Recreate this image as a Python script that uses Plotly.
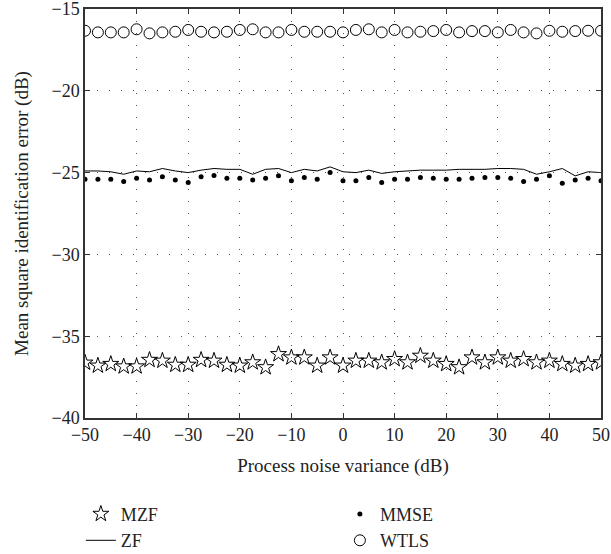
import plotly.graph_objects as go

x_vals = [-50 + 2.5 * i for i in range(41)]

mzf = [-36.62, -36.8, -36.7, -36.85, -36.85, -36.45, -36.5, -36.75, -36.75, -36.45,
       -36.5, -36.75, -36.8, -36.6, -36.9, -36.1, -36.3, -36.3, -36.8, -36.3,
       -36.8, -36.5, -36.5, -36.6, -36.4, -36.6, -36.2, -36.5, -36.7, -36.9,
       -36.3, -36.6, -36.3, -36.5, -36.4, -36.6, -36.5, -36.7, -36.8, -36.7, -36.6]

zf = [-24.9, -24.9, -24.95, -25.1, -24.9, -24.95, -24.75, -24.9, -25.0, -24.85,
      -24.75, -24.8, -24.8, -25.1, -24.8, -24.75, -25.0, -24.8, -24.9, -24.65,
      -24.95, -25.0, -24.85, -25.05, -24.95, -24.9, -24.85, -24.85, -24.85, -24.8,
      -24.8, -24.8, -24.75, -24.75, -24.8, -25.1, -24.95, -24.75, -25.2, -24.95,
      -25.0]

mmse = [-25.4, -25.4, -25.4, -25.55, -25.35, -25.45, -25.25, -25.45, -25.6, -25.25,
        -25.17, -25.35, -25.35, -25.45, -25.35, -25.2, -25.5, -25.3, -25.4, -25.0,
        -25.5, -25.5, -25.3, -25.6, -25.4, -25.4, -25.3, -25.35, -25.4, -25.4,
        -25.35, -25.3, -25.3, -25.35, -25.55, -25.4, -25.2, -25.65, -25.45, -25.35,
        -25.5]

wtls = [-16.33, -16.43, -16.43, -16.43, -16.24, -16.49, -16.43, -16.39, -16.28, -16.39,
        -16.43, -16.39, -16.28, -16.24, -16.43, -16.43, -16.28, -16.39, -16.39, -16.39,
        -16.43, -16.28, -16.24, -16.43, -16.28, -16.43, -16.39, -16.35, -16.28, -16.43,
        -16.35, -16.35, -16.43, -16.28, -16.43, -16.49, -16.33, -16.39, -16.35, -16.33,
        -16.33]

x_ticks = [-50, -40, -30, -20, -10, 0, 10, 20, 30, 40, 50]
y_ticks = [-40, -35, -30, -25, -20, -15]

FONT = "Liberation Serif"
TXT = "#222"

fig = go.Figure()
fig.add_trace(go.Scatter(x=x_vals, y=mzf, name="MZF", mode="markers", legend="legend",
                         marker=dict(symbol="star-open", size=12, color="black",
                                     line=dict(width=1, color="black"))))
fig.add_trace(go.Scatter(x=x_vals, y=zf, name="ZF", mode="lines", legend="legend",
                         line=dict(color="black", width=1)))
fig.add_trace(go.Scatter(x=x_vals, y=mmse, name="MMSE", mode="markers", legend="legend2",
                         marker=dict(symbol="circle", size=5, color="black")))
fig.add_trace(go.Scatter(x=x_vals, y=wtls, name="WTLS", mode="markers", legend="legend2",
                         marker=dict(symbol="circle-open", size=11, color="black",
                                     line=dict(width=1, color="black"))))

axis_common = dict(showline=True, linecolor="#333", linewidth=1.5, mirror="ticks",
                   ticks="inside", ticklen=5, tickcolor="#333",
                   showgrid=True, gridcolor="#555", griddash="1px,11px", gridwidth=1,
                   zeroline=False, automargin=False, ticklabeloverflow="allow",
                   tickfont=dict(family=FONT, size=18, color=TXT))

fig.update_xaxes(range=[-50, 50], tickvals=x_ticks,
                 title=dict(text="Process noise variance (dB)", font=dict(family=FONT, size=19, color=TXT),
                            standoff=14),
                 **axis_common)
fig.update_yaxes(range=[-40, -15], tickvals=y_ticks,
                 title=dict(text="Mean square identification error (dB)", font=dict(family=FONT, size=19, color=TXT),
                            standoff=18),
                 **axis_common)

legend_common = dict(orientation="v", yanchor="top", y=-0.19, xanchor="left",
                     font=dict(family=FONT, size=18, color=TXT),
                     itemwidth=30, tracegroupgap=0, bgcolor="rgba(0,0,0,0)")

fig.update_layout(
    width=611, height=554,
    margin=dict(l=85, r=10, t=9, b=136, autoexpand=False),
    plot_bgcolor="white", paper_bgcolor="white",
    font=dict(family=FONT, size=18, color=TXT),
    legend=dict(x=-0.008, **legend_common),
    legend2=dict(x=0.494, **legend_common),
    showlegend=True,
)

fig.write_html("out.html", config={"displayModeBar": False},
               post_script="document.body.style.margin='0';document.body.style.overflow='hidden';")
